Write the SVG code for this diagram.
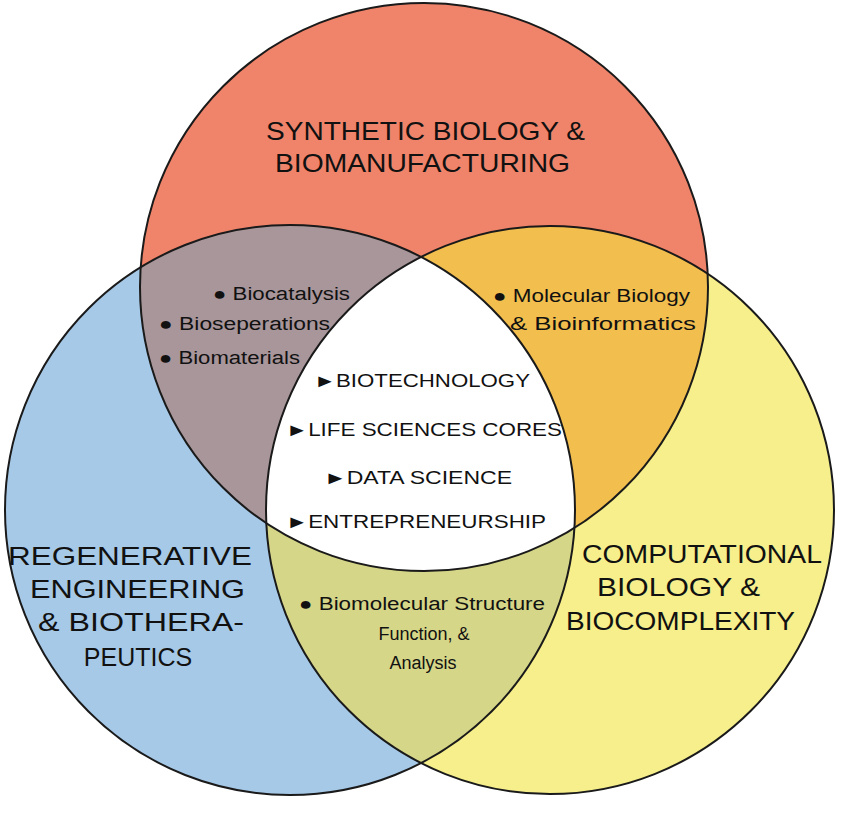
<svg xmlns="http://www.w3.org/2000/svg" width="843" height="817" viewBox="0 0 843 817">
<style>
text{font-family:"Liberation Sans",Arial,sans-serif;fill:#111}
.h{font-size:25px}
.b{font-size:18px}
.c{font-size:18px}
.o{fill:none;stroke:#1a1a1a;stroke-width:2}
</style>
<defs>
<clipPath id="cT"><circle cx="424" cy="287" r="284"/></clipPath>
<clipPath id="cL"><circle cx="290" cy="510" r="285"/></clipPath>
<clipPath id="cR"><circle cx="550" cy="510" r="284"/></clipPath>
</defs>
<rect width="843" height="817" fill="#fff"/>
<g id="top"><circle cx="424" cy="287" r="284" fill="#F0846A"/></g>
<g id="left"><circle cx="290" cy="510" r="285" fill="#A6C9E8"/></g>
<g id="right"><circle cx="550" cy="510" r="284" fill="#F6EF8C"/></g>
<g id="overlaps">
<circle cx="290" cy="510" r="285" fill="#A8969A" clip-path="url(#cT)"/>
<circle cx="550" cy="510" r="284" fill="#F2BE4E" clip-path="url(#cT)"/>
<circle cx="550" cy="510" r="284" fill="#D6D688" clip-path="url(#cL)"/>
<g clip-path="url(#cT)"><circle cx="550" cy="510" r="284" fill="#fff" clip-path="url(#cL)"/></g>
</g>
<g id="outlines">
<circle class="o" cx="424" cy="287" r="284"/>
<circle class="o" cx="290" cy="510" r="285"/>
<circle class="o" cx="550" cy="510" r="284"/>
</g>
<g id="labels">
<text class="h" x="266" y="140" textLength="319" lengthAdjust="spacingAndGlyphs">SYNTHETIC BIOLOGY &amp;</text>
<text class="h" x="275" y="172" textLength="295" lengthAdjust="spacingAndGlyphs">BIOMANUFACTURING</text>
<text class="h" x="8" y="565" textLength="244" lengthAdjust="spacingAndGlyphs">REGENERATIVE</text>
<text class="h" x="30" y="598" textLength="215" lengthAdjust="spacingAndGlyphs">ENGINEERING</text>
<text class="h" x="38" y="631" textLength="206" lengthAdjust="spacingAndGlyphs">&amp; BIOTHERA-</text>
<text class="h" x="138" y="666" text-anchor="middle">PEUTICS</text>
<text class="h" x="582" y="563" textLength="240" lengthAdjust="spacingAndGlyphs">COMPUTATIONAL</text>
<text class="h" x="597" y="596" textLength="163" lengthAdjust="spacingAndGlyphs">BIOLOGY &amp;</text>
<text class="h" x="566" y="630" textLength="229" lengthAdjust="spacingAndGlyphs">BIOCOMPLEXITY</text>
<text class="b" x="213" y="300" textLength="137" lengthAdjust="spacingAndGlyphs">● Biocatalysis</text>
<text class="b" x="159" y="330" textLength="171" lengthAdjust="spacingAndGlyphs">● Bioseperations</text>
<text class="b" x="159" y="364" textLength="141" lengthAdjust="spacingAndGlyphs">● Biomaterials</text>
<text class="b" x="493" y="302" textLength="197" lengthAdjust="spacingAndGlyphs">● Molecular Biology</text>
<text class="b" x="510" y="330" textLength="186" lengthAdjust="spacingAndGlyphs">&amp; Bioinformatics</text>
<text class="b" x="299" y="610" textLength="246" lengthAdjust="spacingAndGlyphs">● Biomolecular Structure</text>
<text class="b" x="424" y="640" text-anchor="middle">Function, &amp;</text>
<text class="b" x="423" y="669" text-anchor="middle">Analysis</text>
<text class="c" x="314" y="387" textLength="216" lengthAdjust="spacingAndGlyphs">►BIOTECHNOLOGY</text>
<text class="c" x="286" y="436" textLength="276" lengthAdjust="spacingAndGlyphs">►LIFE SCIENCES CORES</text>
<text class="c" x="324" y="484" textLength="188" lengthAdjust="spacingAndGlyphs">►DATA SCIENCE</text>
<text class="c" x="286" y="528" textLength="260" lengthAdjust="spacingAndGlyphs">►ENTREPRENEURSHIP</text>
</g>
</svg>
